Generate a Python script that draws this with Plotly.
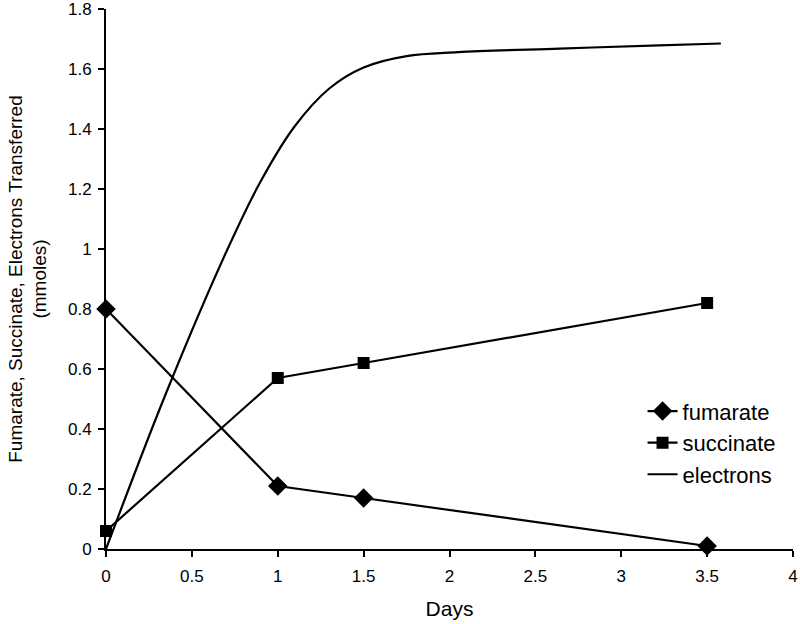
import plotly.graph_objects as go

days = [0, 1, 1.5, 3.5]
fumarate = [0.80, 0.21, 0.17, 0.01]
succinate = [0.06, 0.57, 0.62, 0.82]

electron_days = [0, 0.35, 0.7, 0.9, 1.1, 1.3, 1.5, 1.75, 2.05, 2.64, 3.22, 3.58]
electrons = [0.0, 0.52, 0.99, 1.225, 1.41, 1.535, 1.605, 1.643, 1.656, 1.668, 1.679, 1.685]

x_ticks = [0, 0.5, 1, 1.5, 2, 2.5, 3, 3.5, 4]
x_labels = ["0", "0.5", "1", "1.5", "2", "2.5", "3", "3.5", "4"]
y_ticks = [0, 0.2, 0.4, 0.6, 0.8, 1.0, 1.2, 1.4, 1.6, 1.8]
y_labels = ["0", "0.2", "0.4", "0.6", "0.8", "1", "1.2", "1.4", "1.6", "1.8"]

FONT = "Liberation Sans, Arial, Helvetica, sans-serif"

fig = go.Figure()
fig.add_trace(go.Scatter(
    x=days, y=fumarate, name="fumarate", mode="lines+markers",
    line=dict(color="black", width=2.2),
    marker=dict(symbol="diamond", size=15, color="black"),
    cliponaxis=False,
))
fig.add_trace(go.Scatter(
    x=days, y=succinate, name="succinate", mode="lines+markers",
    line=dict(color="black", width=2.2),
    marker=dict(symbol="square", size=12, color="black"),
    cliponaxis=False,
))
fig.add_trace(go.Scatter(
    x=electron_days, y=electrons, name="electrons", mode="lines",
    line=dict(color="black", width=2.2, shape="spline", smoothing=1.0),
    cliponaxis=False,
))

fig.update_layout(
    width=800, height=624,
    margin=dict(l=106, r=7, t=9, b=75, autoexpand=False),
    paper_bgcolor="white", plot_bgcolor="white",
    font=dict(family=FONT, color="black", size=17),
    showlegend=True,
    legend=dict(
        x=0.781, y=0.294, xanchor="left", yanchor="top",
        font=dict(size=22, family=FONT),
        bgcolor="rgba(0,0,0,0)", tracegroupgap=0,
        itemwidth=30,
    ),
    xaxis=dict(
        range=[0, 4], tickvals=x_ticks, ticktext=x_labels,
        showgrid=False, zeroline=False, automargin=False,
        showline=True, linecolor="black", linewidth=2,
        ticks="outside", ticklen=6, tickwidth=2, tickcolor="black",
        tickfont=dict(size=17), ticklabelstandoff=5, ticklabeloverflow="allow",
        title=dict(text="Days", font=dict(size=21), standoff=16),
    ),
    yaxis=dict(
        range=[0, 1.8], tickvals=y_ticks, ticktext=y_labels,
        showgrid=False, zeroline=False, automargin=False,
        showline=True, linecolor="black", linewidth=2,
        ticks="outside", ticklen=6, tickwidth=2, tickcolor="black",
        tickfont=dict(size=17), ticklabelstandoff=3, ticklabeloverflow="allow",
        title=dict(text="Fumarate, Succinate, Electrons Transferred<br>(mmoles)",
                   font=dict(size=19), standoff=16),
    ),
)

fig.write_html(
    "out.html",
    config={"displayModeBar": False},
    post_script="document.body.style.margin='0';document.body.style.overflow='hidden';",
)
